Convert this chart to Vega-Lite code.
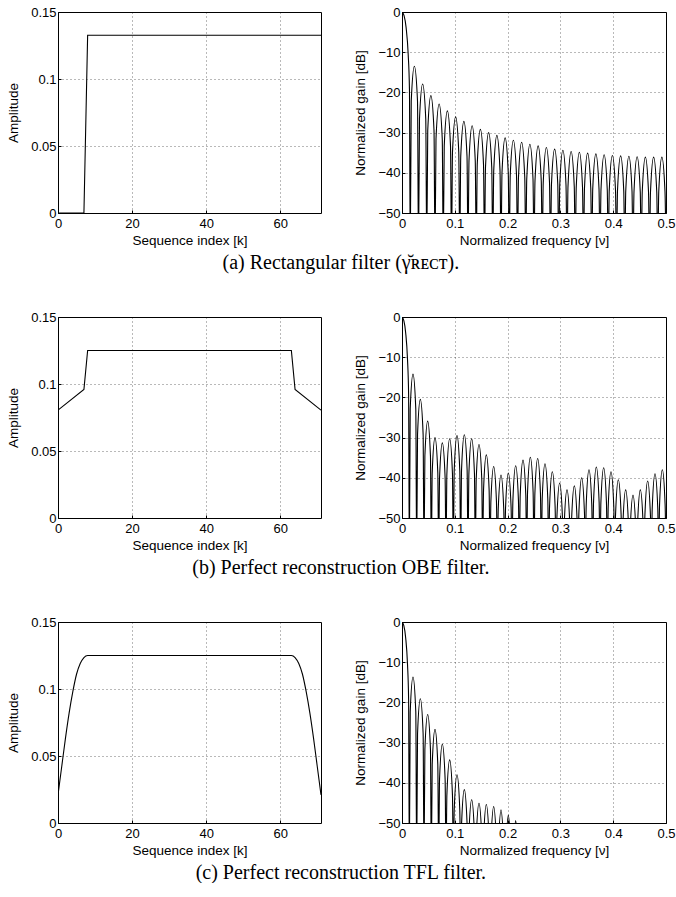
{
"$schema": "https://vega.github.io/schema/vega-lite/v6.json",
"background": "white",
"padding": {"left": 6, "top": 5, "right": 0, "bottom": 0},
"config": {
  "font": "Liberation Sans",
  "view": {"stroke": "#000", "strokeWidth": 1},
  "axis": {"domain": false, "grid": true, "gridColor": "#000", "gridOpacity": 0.55, "gridDash": [1, 3], "gridWidth": 1, "ticks": true, "tickColor": "#000", "tickSize": -3, "labelFont": "Liberation Sans", "labelFontSize": 13, "labelColor": "#000", "labelFlush": false, "labelOverlap": false, "titleFont": "Liberation Sans", "titleFontSize": 13.5, "titleFontWeight": "normal", "titleColor": "#000"},
  "axisX": {"titlePadding": 3, "labelPadding": 7},
  "axisY": {"titlePadding": 10, "labelPadding": 5},
  "title": {"font": "Liberation Serif", "fontSize": 20, "fontWeight": "normal", "color": "#000", "orient": "bottom", "anchor": "middle", "offset": 6}
},
"datasets": {
  "ta": [{"k":0,"a":0},{"k":7,"a":0},{"k":8,"a":0.1326},{"k":71,"a":0.1326}],
  "tb": [{"k":0,"a":0.0805},{"k":7,"a":0.0959},{"k":8,"a":0.125},{"k":63,"a":0.125},{"k":64,"a":0.0959},{"k":71,"a":0.0805}],
  "tc": [{"k":0,"a":0.021},{"k":1,"a":0.042},{"k":2,"a":0.063},{"k":3,"a":0.082},{"k":4,"a":0.098},{"k":5,"a":0.111},{"k":6,"a":0.119},{"k":7,"a":0.1235},{"k":8,"a":0.125},{"k":63,"a":0.125},{"k":64,"a":0.1235},{"k":65,"a":0.119},{"k":66,"a":0.111},{"k":67,"a":0.098},{"k":68,"a":0.082},{"k":69,"a":0.063},{"k":70,"a":0.042},{"k":71,"a":0.021}],
  "fa": [
    {"v":0,"g":0},{"v":0.0039,"g":-0.9},{"v":0.0078,"g":-3.9},{"v":0.0117,"g":-10.5},{"v":0.0141,"g":-19.2},
    {"v":0.01563,"g":-60},{"v":0.0175,"g":-22.2},{"v":0.02344,"g":-13.5},{"v":0.02938,"g":-22.2},
    {"v":0.03125,"g":-60},{"v":0.03313,"g":-26.6},{"v":0.03906,"g":-17.9},{"v":0.045,"g":-26.6},
    {"v":0.04688,"g":-60},{"v":0.04875,"g":-29.5},{"v":0.05469,"g":-20.8},{"v":0.06063,"g":-29.5},
    {"v":0.0625,"g":-60},{"v":0.06438,"g":-31.6},{"v":0.07031,"g":-22.9},{"v":0.07625,"g":-31.6},
    {"v":0.07813,"g":-60},{"v":0.08,"g":-33.3},{"v":0.08594,"g":-24.6},{"v":0.09188,"g":-33.3},
    {"v":0.09375,"g":-60},{"v":0.09563,"g":-34.8},{"v":0.10156,"g":-26.1},{"v":0.1075,"g":-34.8},
    {"v":0.10938,"g":-60},{"v":0.11125,"g":-35.9},{"v":0.11719,"g":-27.2},{"v":0.12313,"g":-35.9},
    {"v":0.125,"g":-60},{"v":0.12688,"g":-37},{"v":0.13281,"g":-28.3},{"v":0.13875,"g":-37},
    {"v":0.14063,"g":-60},{"v":0.1425,"g":-37.9},{"v":0.14844,"g":-29.2},{"v":0.15438,"g":-37.9},
    {"v":0.15625,"g":-60},{"v":0.15813,"g":-38.7},{"v":0.16406,"g":-30},{"v":0.17,"g":-38.7},
    {"v":0.17188,"g":-60},{"v":0.17375,"g":-39.4},{"v":0.17969,"g":-30.7},{"v":0.18563,"g":-39.4},
    {"v":0.1875,"g":-60},{"v":0.18938,"g":-40},{"v":0.19531,"g":-31.3},{"v":0.20125,"g":-40},
    {"v":0.20313,"g":-60},{"v":0.205,"g":-40.6},{"v":0.21094,"g":-31.9},{"v":0.21688,"g":-40.6},
    {"v":0.21875,"g":-60},{"v":0.22063,"g":-41.1},{"v":0.22656,"g":-32.4},{"v":0.2325,"g":-41.1},
    {"v":0.23438,"g":-60},{"v":0.23625,"g":-41.6},{"v":0.24219,"g":-32.9},{"v":0.24813,"g":-41.6},
    {"v":0.25,"g":-60},{"v":0.25188,"g":-42},{"v":0.25781,"g":-33.3},{"v":0.26375,"g":-42},
    {"v":0.26563,"g":-60},{"v":0.2675,"g":-42.4},{"v":0.27344,"g":-33.7},{"v":0.27938,"g":-42.4},
    {"v":0.28125,"g":-60},{"v":0.28313,"g":-42.8},{"v":0.28906,"g":-34.1},{"v":0.295,"g":-42.8},
    {"v":0.29688,"g":-60},{"v":0.29875,"g":-43.1},{"v":0.30469,"g":-34.4},{"v":0.31063,"g":-43.1},
    {"v":0.3125,"g":-60},{"v":0.31438,"g":-43.4},{"v":0.32031,"g":-34.7},{"v":0.32625,"g":-43.4},
    {"v":0.32813,"g":-60},{"v":0.33,"g":-43.6},{"v":0.33594,"g":-34.9},{"v":0.34188,"g":-43.6},
    {"v":0.34375,"g":-60},{"v":0.34563,"g":-43.8},{"v":0.35156,"g":-35.1},{"v":0.3575,"g":-43.8},
    {"v":0.35938,"g":-60},{"v":0.36125,"g":-44},{"v":0.36719,"g":-35.3},{"v":0.37313,"g":-44},
    {"v":0.375,"g":-60},{"v":0.37688,"g":-44.2},{"v":0.38281,"g":-35.5},{"v":0.38875,"g":-44.2},
    {"v":0.39063,"g":-60},{"v":0.3925,"g":-44.4},{"v":0.39844,"g":-35.7},{"v":0.40438,"g":-44.4},
    {"v":0.40625,"g":-60},{"v":0.40813,"g":-44.5},{"v":0.41406,"g":-35.8},{"v":0.42,"g":-44.5},
    {"v":0.42188,"g":-60},{"v":0.42375,"g":-44.6},{"v":0.42969,"g":-35.9},{"v":0.43563,"g":-44.6},
    {"v":0.4375,"g":-60},{"v":0.43938,"g":-44.7},{"v":0.44531,"g":-36},{"v":0.45125,"g":-44.7},
    {"v":0.45313,"g":-60},{"v":0.455,"g":-44.8},{"v":0.46094,"g":-36.1},{"v":0.46688,"g":-44.8},
    {"v":0.46875,"g":-60},{"v":0.47063,"g":-44.8},{"v":0.47656,"g":-36.1},{"v":0.4825,"g":-44.8},
    {"v":0.48438,"g":-60},{"v":0.48625,"g":-44.8},{"v":0.49219,"g":-36.1},{"v":0.49813,"g":-44.8},
    {"v":0.5,"g":-60}
  ],
  "fb": [
    {"v":0,"g":0},{"v":0.00347,"g":-0.9},{"v":0.00694,"g":-3.9},{"v":0.01042,"g":-10.5},{"v":0.0125,"g":-19.2},
    {"v":0.01389,"g":-60},{"v":0.01556,"g":-22.9},{"v":0.02083,"g":-14.2},{"v":0.02611,"g":-22.9},
    {"v":0.02778,"g":-60},{"v":0.02944,"g":-29.2},{"v":0.03472,"g":-20.5},{"v":0.04,"g":-29.2},
    {"v":0.04167,"g":-60},{"v":0.04333,"g":-34.6},{"v":0.04861,"g":-25.9},{"v":0.05389,"g":-34.6},
    {"v":0.05556,"g":-60},{"v":0.05722,"g":-38.7},{"v":0.0625,"g":-30},{"v":0.06778,"g":-38.7},
    {"v":0.06944,"g":-60},{"v":0.07111,"g":-40},{"v":0.07639,"g":-31.3},{"v":0.08167,"g":-40},
    {"v":0.08333,"g":-60},{"v":0.085,"g":-39},{"v":0.09028,"g":-30.3},{"v":0.09556,"g":-39},
    {"v":0.09722,"g":-60},{"v":0.09889,"g":-38.2},{"v":0.10417,"g":-29.5},{"v":0.10944,"g":-38.2},
    {"v":0.11111,"g":-60},{"v":0.11278,"g":-38},{"v":0.11806,"g":-29.3},{"v":0.12333,"g":-38},
    {"v":0.125,"g":-60},{"v":0.12667,"g":-39},{"v":0.13194,"g":-30.3},{"v":0.13722,"g":-39},
    {"v":0.13889,"g":-60},{"v":0.14056,"g":-40.4},{"v":0.14583,"g":-31.7},{"v":0.15111,"g":-40.4},
    {"v":0.15278,"g":-60},{"v":0.15444,"g":-43},{"v":0.15972,"g":-34.3},{"v":0.165,"g":-43},
    {"v":0.16667,"g":-60},{"v":0.16833,"g":-45.9},{"v":0.17361,"g":-37.2},{"v":0.17889,"g":-45.9},
    {"v":0.18056,"g":-60},{"v":0.18222,"g":-48},{"v":0.1875,"g":-39.3},{"v":0.19278,"g":-48},
    {"v":0.19444,"g":-60},{"v":0.19611,"g":-47.5},{"v":0.20139,"g":-38.8},{"v":0.20667,"g":-47.5},
    {"v":0.20833,"g":-60},{"v":0.21,"g":-45.7},{"v":0.21528,"g":-37},{"v":0.22056,"g":-45.7},
    {"v":0.22222,"g":-60},{"v":0.22389,"g":-44.3},{"v":0.22917,"g":-35.6},{"v":0.23444,"g":-44.3},
    {"v":0.23611,"g":-60},{"v":0.23778,"g":-43.6},{"v":0.24306,"g":-34.9},{"v":0.24833,"g":-43.6},
    {"v":0.25,"g":-60},{"v":0.25167,"g":-43.9},{"v":0.25694,"g":-35.2},{"v":0.26222,"g":-43.9},
    {"v":0.26389,"g":-60},{"v":0.26556,"g":-45.2},{"v":0.27083,"g":-36.5},{"v":0.27611,"g":-45.2},
    {"v":0.27778,"g":-60},{"v":0.27944,"g":-47.2},{"v":0.28472,"g":-38.5},{"v":0.29,"g":-47.2},
    {"v":0.29167,"g":-60},{"v":0.29333,"g":-50},{"v":0.29861,"g":-41.3},{"v":0.30389,"g":-50},
    {"v":0.30556,"g":-60},{"v":0.30722,"g":-51.7},{"v":0.3125,"g":-43},{"v":0.31778,"g":-51.7},
    {"v":0.31944,"g":-60},{"v":0.32111,"g":-50.7},{"v":0.32639,"g":-42},{"v":0.33167,"g":-50.7},
    {"v":0.33333,"g":-60},{"v":0.335,"g":-48.7},{"v":0.34028,"g":-40},{"v":0.34556,"g":-48.7},
    {"v":0.34722,"g":-60},{"v":0.34889,"g":-46.7},{"v":0.35417,"g":-38},{"v":0.35944,"g":-46.7},
    {"v":0.36111,"g":-60},{"v":0.36278,"g":-46},{"v":0.36806,"g":-37.3},{"v":0.37333,"g":-46},
    {"v":0.375,"g":-60},{"v":0.37667,"g":-46.2},{"v":0.38194,"g":-37.5},{"v":0.38722,"g":-46.2},
    {"v":0.38889,"g":-60},{"v":0.39056,"g":-47.2},{"v":0.39583,"g":-38.5},{"v":0.40111,"g":-47.2},
    {"v":0.40278,"g":-60},{"v":0.40444,"g":-49.2},{"v":0.40972,"g":-40.5},{"v":0.415,"g":-49.2},
    {"v":0.41667,"g":-60},{"v":0.41833,"g":-51.7},{"v":0.42361,"g":-43},{"v":0.42889,"g":-51.7},
    {"v":0.43056,"g":-60},{"v":0.43222,"g":-53},{"v":0.4375,"g":-44.3},{"v":0.44278,"g":-53},
    {"v":0.44444,"g":-60},{"v":0.44611,"g":-51.7},{"v":0.45139,"g":-43},{"v":0.45667,"g":-51.7},
    {"v":0.45833,"g":-60},{"v":0.46,"g":-49.5},{"v":0.46528,"g":-40.8},{"v":0.47056,"g":-49.5},
    {"v":0.47222,"g":-60},{"v":0.47389,"g":-47.7},{"v":0.47917,"g":-39},{"v":0.48444,"g":-47.7},
    {"v":0.48611,"g":-60},{"v":0.48778,"g":-46.7},{"v":0.49306,"g":-38},{"v":0.49833,"g":-46.7},
    {"v":0.5,"g":-60}
  ],
  "fc": [
    {"v":0,"g":0},{"v":0.00347,"g":-0.9},{"v":0.00694,"g":-3.9},{"v":0.01042,"g":-10.5},{"v":0.0125,"g":-19.2},
    {"v":0.01389,"g":-60},{"v":0.01556,"g":-22.4},{"v":0.02083,"g":-13.7},{"v":0.02611,"g":-22.4},
    {"v":0.02778,"g":-60},{"v":0.02944,"g":-27.8},{"v":0.03472,"g":-19.1},{"v":0.04,"g":-27.8},
    {"v":0.04167,"g":-60},{"v":0.04333,"g":-31.7},{"v":0.04861,"g":-23},{"v":0.05389,"g":-31.7},
    {"v":0.05556,"g":-60},{"v":0.05722,"g":-35.4},{"v":0.0625,"g":-26.7},{"v":0.06778,"g":-35.4},
    {"v":0.06944,"g":-60},{"v":0.07111,"g":-39.1},{"v":0.07639,"g":-30.4},{"v":0.08167,"g":-39.1},
    {"v":0.08333,"g":-60},{"v":0.085,"g":-43},{"v":0.09028,"g":-34.3},{"v":0.09556,"g":-43},
    {"v":0.09722,"g":-60},{"v":0.09889,"g":-46.7},{"v":0.10417,"g":-38},{"v":0.10944,"g":-46.7},
    {"v":0.11111,"g":-60},{"v":0.11278,"g":-50.4},{"v":0.11806,"g":-41.7},{"v":0.12333,"g":-50.4},
    {"v":0.125,"g":-60},{"v":0.12667,"g":-52.9},{"v":0.13194,"g":-44.2},{"v":0.13722,"g":-52.9},
    {"v":0.13889,"g":-60},{"v":0.14056,"g":-53.8},{"v":0.14583,"g":-45.1},{"v":0.15111,"g":-53.8},
    {"v":0.15278,"g":-60},{"v":0.15444,"g":-54.1},{"v":0.15972,"g":-45.4},{"v":0.165,"g":-54.1},
    {"v":0.16667,"g":-60},{"v":0.16833,"g":-54.6},{"v":0.17361,"g":-45.9},{"v":0.17889,"g":-54.6},
    {"v":0.18056,"g":-60},{"v":0.18222,"g":-55.4},{"v":0.1875,"g":-46.7},{"v":0.19278,"g":-55.4},
    {"v":0.19444,"g":-60},{"v":0.19611,"g":-56.7},{"v":0.20139,"g":-48},{"v":0.20667,"g":-56.7},
    {"v":0.20833,"g":-60},{"v":0.21,"g":-58.1},{"v":0.21528,"g":-49.4},{"v":0.22056,"g":-58.1},
    {"v":0.22222,"g":-60}
  ]
},
"spacing": 37,
"vconcat": [
  {"title": {"text": "(a) Rectangular filter (γ̆ʀᴇᴄᴛ)."}, "spacing": 31, "hconcat": [
    {"width": 263, "height": 201, "data": {"name": "ta"},
     "mark": {"type": "line", "color": "#000", "strokeWidth": 1.1, "clip": true},
     "encoding": {
       "x": {"field": "k", "type": "quantitative", "scale": {"domain": [0, 71], "nice": false}, "axis": {"values": [0, 20, 40, 60], "format": ".3~g", "title": "Sequence index [k]"}},
       "y": {"field": "a", "type": "quantitative", "scale": {"domain": [0, 0.15], "nice": false}, "axis": {"values": [0, 0.05, 0.1, 0.15], "format": ".3~g", "title": "Amplitude"}}}},
    {"width": 264, "height": 201, "data": {"name": "fa"},
     "mark": {"type": "line", "color": "#000", "strokeWidth": 1.1, "clip": true, "interpolate": "monotone"},
     "encoding": {
       "x": {"field": "v", "type": "quantitative", "scale": {"domain": [0, 0.5], "nice": false}, "axis": {"values": [0, 0.1, 0.2, 0.3, 0.4, 0.5], "format": ".3~g", "title": "Normalized frequency [ν]"}},
       "y": {"field": "g", "type": "quantitative", "scale": {"domain": [-50, 0], "nice": false}, "axis": {"values": [-50, -40, -30, -20, -10, 0], "format": ".3~g", "title": "Normalized gain [dB]"}}}}
  ]},
  {"title": {"text": "(b) Perfect reconstruction OBE filter."}, "spacing": 31, "hconcat": [
    {"width": 263, "height": 201, "data": {"name": "tb"},
     "mark": {"type": "line", "color": "#000", "strokeWidth": 1.1, "clip": true},
     "encoding": {
       "x": {"field": "k", "type": "quantitative", "scale": {"domain": [0, 71], "nice": false}, "axis": {"values": [0, 20, 40, 60], "format": ".3~g", "title": "Sequence index [k]"}},
       "y": {"field": "a", "type": "quantitative", "scale": {"domain": [0, 0.15], "nice": false}, "axis": {"values": [0, 0.05, 0.1, 0.15], "format": ".3~g", "title": "Amplitude"}}}},
    {"width": 264, "height": 201, "data": {"name": "fb"},
     "mark": {"type": "line", "color": "#000", "strokeWidth": 1.1, "clip": true, "interpolate": "monotone"},
     "encoding": {
       "x": {"field": "v", "type": "quantitative", "scale": {"domain": [0, 0.5], "nice": false}, "axis": {"values": [0, 0.1, 0.2, 0.3, 0.4, 0.5], "format": ".3~g", "title": "Normalized frequency [ν]"}},
       "y": {"field": "g", "type": "quantitative", "scale": {"domain": [-50, 0], "nice": false}, "axis": {"values": [-50, -40, -30, -20, -10, 0], "format": ".3~g", "title": "Normalized gain [dB]"}}}}
  ]},
  {"title": {"text": "(c) Perfect reconstruction TFL filter."}, "spacing": 31, "hconcat": [
    {"width": 263, "height": 201, "data": {"name": "tc"},
     "mark": {"type": "line", "color": "#000", "strokeWidth": 1.1, "clip": true, "interpolate": "monotone"},
     "encoding": {
       "x": {"field": "k", "type": "quantitative", "scale": {"domain": [0, 71], "nice": false}, "axis": {"values": [0, 20, 40, 60], "format": ".3~g", "title": "Sequence index [k]"}},
       "y": {"field": "a", "type": "quantitative", "scale": {"domain": [0, 0.15], "nice": false}, "axis": {"values": [0, 0.05, 0.1, 0.15], "format": ".3~g", "title": "Amplitude"}}}},
    {"width": 264, "height": 201, "data": {"name": "fc"},
     "mark": {"type": "line", "color": "#000", "strokeWidth": 1.1, "clip": true, "interpolate": "monotone"},
     "encoding": {
       "x": {"field": "v", "type": "quantitative", "scale": {"domain": [0, 0.5], "nice": false}, "axis": {"values": [0, 0.1, 0.2, 0.3, 0.4, 0.5], "format": ".3~g", "title": "Normalized frequency [ν]"}},
       "y": {"field": "g", "type": "quantitative", "scale": {"domain": [-50, 0], "nice": false}, "axis": {"values": [-50, -40, -30, -20, -10, 0], "format": ".3~g", "title": "Normalized gain [dB]"}}}}
  ]}
]
}
